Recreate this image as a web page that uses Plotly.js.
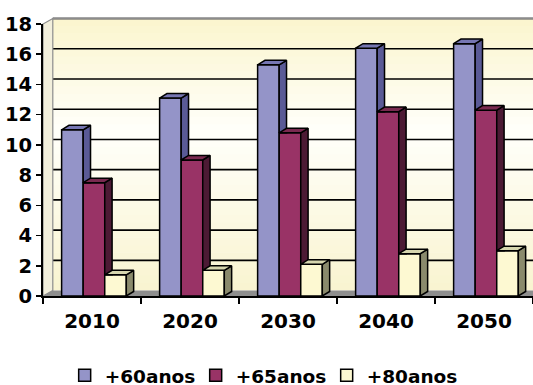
<!DOCTYPE html>
<html>
<head>
<meta charset="utf-8">
<script src="https://cdn.plot.ly/plotly-3.0.1.min.js"></script>
<style>html,body{margin:0;padding:0;background:#fff;}#chart{width:533px;height:385px;}</style>
</head>
<body>
<div id="chart"></div>
<script>
// ---- data ----
const categories = ['2010', '2020', '2030', '2040', '2050'];
const plus60 = [11.0, 13.1, 15.3, 16.4, 16.7];
const plus65 = [7.5, 9.0, 10.8, 12.2, 12.3];
const plus80 = [1.4, 1.7, 2.1, 2.8, 3.0];
const seriesNames = ['+60anos', '+65anos', '+80anos'];
const yTicks = [0, 2, 4, 6, 8, 10, 12, 14, 16, 18];

// ---- style ----
const frontColors = ['#9494c8', '#993366', '#fdf9d2'];
const sideColors = ['#5a5a96', '#4c1a34', '#8a8a6c'];
const topColors = ['#7676b2', '#7a2a50', '#d6d6ae'];
const series = [plus60, plus65, plus80];
const barW = 0.22, groupStart = 0.19;
const dx = 0.075, dy = 0.30;      // bar depth (data units)
const dxw = 0.10, dyw = 0.36;     // wall depth (data units)
const yMax = 18, xMax = categories.length;
const FONT = 'DejaVu Sans';

const centers = categories.map((_, i) => i + 0.5);
const traces = [];
series.forEach((vals, k) => {
  traces.push({
    type: 'bar', name: seriesNames[k], x: centers, y: vals,
    width: barW, offset: groupStart - 0.5 + k * barW,
    marker: {color: frontColors[k], line: {color: '#000', width: 1.5}},
    hoverinfo: 'skip'
  });
});
// 3D side and top faces computed from the same values
series.forEach((vals, k) => {
  const sx = [], sy = [], tx = [], ty = [];
  vals.forEach((v, i) => {
    const L = i + groupStart + k * barW, R = L + barW;
    const next = k < series.length - 1 ? series[k + 1][i] : null;
    const yb0 = next !== null ? next : 0;
    const yb1 = next !== null ? next : dy;
    sx.push(R, R + dx, R + dx, R, R, null);
    sy.push(yb0, yb1, v + dy, v, yb0, null);
    tx.push(L, R, R + dx, L + dx, L, null);
    ty.push(v, v, v + dy, v + dy, v, null);
  });
  traces.push({type: 'scatter', mode: 'lines', x: sx, y: sy, fill: 'toself',
    fillcolor: sideColors[k], line: {color: '#000', width: 1.5}, showlegend: false, hoverinfo: 'skip'});
  traces.push({type: 'scatter', mode: 'lines', x: tx, y: ty, fill: 'toself',
    fillcolor: topColors[k], line: {color: '#000', width: 1.5}, showlegend: false, hoverinfo: 'skip'});
});

// ---- walls (decoration, paper coordinates) ----
const px = v => v / xMax, py = v => v / yMax;
const shapes = [];
const stops = [[0, [249, 244, 208]], [10.5, [255, 255, 250]], [18, [251, 245, 206]]];
function colAt(v) {
  for (let j = 0; j < stops.length - 1; j++) {
    const [a, ca] = stops[j], [b, cb] = stops[j + 1];
    if (v >= a && v <= b) {
      const t = (v - a) / (b - a);
      return 'rgb(' + ca.map((c, m) => Math.round(c + (cb[m] - c) * t)).join(',') + ')';
    }
  }
  return 'rgb(251,245,206)';
}
const nb = 36;
for (let j = 0; j < nb; j++) {
  const v0 = yMax * j / nb, v1 = yMax * (j + 1) / nb;
  shapes.push({type: 'rect', xref: 'paper', yref: 'paper', layer: 'below',
    x0: px(dxw), x1: 1.05, y0: py(v0 + dyw), y1: py(v1 + dyw) + 0.002,
    fillcolor: colAt((v0 + v1) / 2), line: {width: 0}});
}
yTicks.filter(t => t > 0).forEach(t => {
  shapes.push({type: 'line', xref: 'paper', yref: 'paper', layer: 'below',
    x0: px(dxw), x1: 1.05, y0: py(t + dyw), y1: py(t + dyw), line: {color: '#000', width: 1.6}});
});
// floor
shapes.push({type: 'path', xref: 'paper', yref: 'paper', layer: 'below',
  path: `M0,0 L1.05,0 L1.05,${py(dyw)} L${px(dxw)},${py(dyw)} Z`,
  fillcolor: '#8e8e8e', line: {width: 0}});
// left wall
shapes.push({type: 'path', xref: 'paper', yref: 'paper', layer: 'below',
  path: `M0,0 L${px(dxw)},${py(dyw)} L${px(dxw)},${py(yMax + dyw)} L0,${py(yMax)} Z`,
  fillcolor: '#f2efdc', line: {color: '#8c8c8c', width: 1.2}});
// wall top edge
shapes.push({type: 'line', xref: 'paper', yref: 'paper', layer: 'below',
  x0: px(dxw), x1: 1.05, y0: py(yMax + dyw), y1: py(yMax + dyw), line: {color: '#8c8c8c', width: 2}});

const layout = {
  width: 533, height: 385,
  margin: {l: 43, r: 0, t: 24, b: 89},
  paper_bgcolor: '#fff', plot_bgcolor: 'rgba(0,0,0,0)',
  barmode: 'overlay', showlegend: true,
  font: {family: FONT, color: '#000', weight: 'bold'},
  xaxis: {
    range: [0, xMax], tickmode: 'array', tickvals: centers, ticktext: categories,
    ticks: '', showgrid: false, zeroline: false, ticklabelstandoff: 6,
    showline: true, linecolor: '#000', linewidth: 2,
    tickfont: {family: FONT, size: 20, weight: 'bold', color: '#000'},
    minor: {tickmode: 'linear', tick0: 0, dtick: 1, ticks: 'outside', ticklen: 6, tickwidth: 1.5, tickcolor: '#000', showgrid: false},
    fixedrange: true
  },
  yaxis: {
    range: [0, yMax], tickmode: 'array', tickvals: yTicks,
    ticks: 'outside', ticklen: 5, tickwidth: 1.5, tickcolor: '#000',
    showgrid: false, zeroline: false,
    showline: true, linecolor: '#000', linewidth: 2,
    tickfont: {family: FONT, size: 19.5, weight: 'bold', color: '#000'},
    fixedrange: true
  },
  legend: {
    orientation: 'h', xref: 'container', yref: 'container',
    x: 0.49, xanchor: 'center', y: 0.024, yanchor: 'middle',
    entrywidth: 86, entrywidthmode: 'pixels',
    font: {family: FONT, size: 18.5, weight: 'bold', color: '#000'},
    traceorder: 'normal', bgcolor: 'rgba(0,0,0,0)'
  },
  shapes: shapes
};
Plotly.newPlot('chart', traces, layout, {displayModeBar: false, staticPlot: true});
</script>
</body>
</html>
